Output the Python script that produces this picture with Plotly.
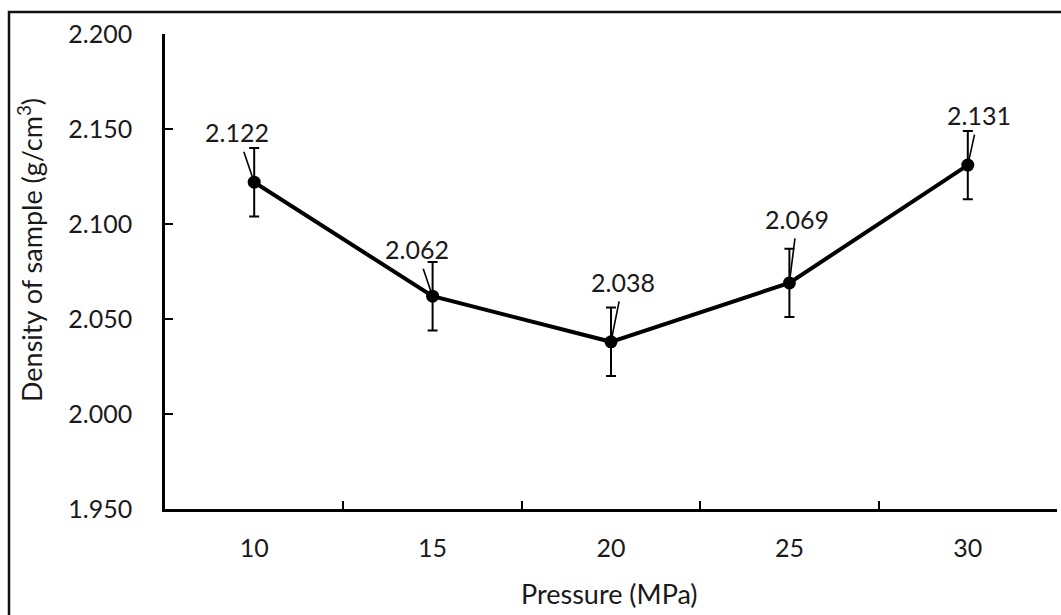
import plotly.graph_objects as go

pressure = ["10", "15", "20", "25", "30"]
density = [2.122, 2.062, 2.038, 2.069, 2.131]
errors = [0.018, 0.018, 0.018, 0.018, 0.018]
label_text = ["2.122", "2.062", "2.038", "2.069", "2.131"]
label_dx = [-17, -16, 12, 8, 11]
label_dy = [-50, -47, -60, -64, -50]
y_ticks = [1.95, 2.00, 2.05, 2.10, 2.15, 2.20]

FONT = "Lato"
FS = 25
FT = 27
TXT = "#1a1a1a"

W, H = 1061, 615
L, R, T, B = 165, 4, 34, 106
PW, PH = W - L - R, H - T - B

def px_x(p):
    return (p - L) / PW

def px_y(p):
    return (H - B - p) / PH

fig = go.Figure()
fig.add_trace(go.Scatter(
    x=pressure, y=density, mode="lines+markers",
    line=dict(color="black", width=4),
    marker=dict(color="black", size=13),
    error_y=dict(type="data", array=errors, color="black", thickness=2, width=5),
    showlegend=False,
))

for i, (yv, t, dx, dy) in enumerate(zip(density, label_text, label_dx, label_dy)):
    fig.add_annotation(
        x=i, y=yv, text=t, showarrow=True, arrowhead=0, arrowwidth=1.6,
        arrowcolor="black", ax=dx, ay=dy, standoff=4, borderpad=4,
        font=dict(family=FONT, size=FS, color=TXT),
    )

fig.add_annotation(
    xref="paper", yref="paper", x=px_x(609), y=px_y(593),
    text="Pressure (MPa)", showarrow=False, xanchor="center", yanchor="middle",
    font=dict(family=FONT, size=FT, color=TXT),
)
fig.add_annotation(
    xref="paper", yref="paper", x=px_x(30), y=px_y(250),
    text="Density of sample (g/cm<sup>3</sup>)", showarrow=False, textangle=-90,
    xanchor="center", yanchor="middle",
    font=dict(family=FONT, size=FT, color=TXT),
)

fig.add_shape(
    type="rect", xref="paper", yref="paper",
    x0=px_x(9), x1=px_x(1075), y0=px_y(630), y1=px_y(12),
    line=dict(color="#111111", width=2.5), fillcolor="rgba(0,0,0,0)", layer="below",
)

fig.update_layout(
    width=W, height=H,
    margin=dict(l=L, r=R, t=T, b=B, pad=0),
    paper_bgcolor="white", plot_bgcolor="white",
    font=dict(family=FONT, size=FS, color=TXT),
)
fig.update_xaxes(
    type="category", range=[-0.5, 4.5], tickson="boundaries",
    ticks="inside", ticklen=8, tickwidth=2, tickcolor="black",
    showline=True, linewidth=2.5, linecolor="black", showgrid=False,
    zeroline=False, ticklabelstandoff=15,
    tickfont=dict(family=FONT, size=FS, color=TXT),
)
fig.update_yaxes(
    range=[1.95, 2.20], tickvals=y_ticks, tickformat=".3f",
    ticks="inside", ticklen=8, tickwidth=2, tickcolor="black",
    showline=True, linewidth=2.5, linecolor="black", showgrid=False,
    zeroline=False, ticklabelstandoff=25,
    tickfont=dict(family=FONT, size=FS, color=TXT),
)

fig.write_html(
    "out.html",
    config={"displayModeBar": False},
    post_script="document.body.style.margin='0';document.body.style.overflow='hidden';",
)
